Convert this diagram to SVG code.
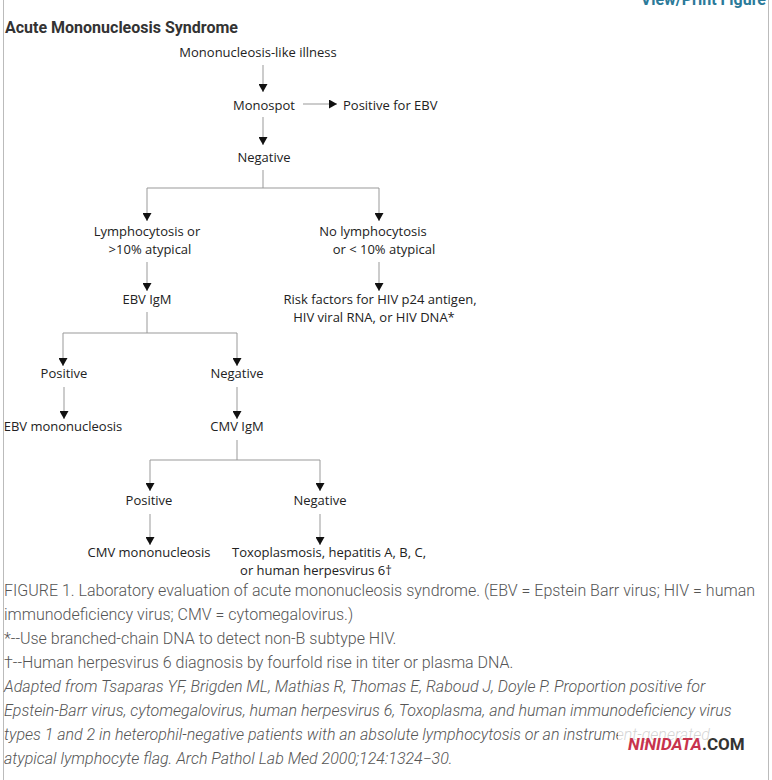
<svg xmlns="http://www.w3.org/2000/svg" width="772" height="780" viewBox="0 0 772 780">
<defs>
<marker id="ah" markerUnits="userSpaceOnUse" markerWidth="8" markerHeight="9" refX="8" refY="4.5" orient="auto">
<path d="M0,0 L8,4.5 L0,9 z" fill="#111"/>
</marker>
</defs>
<style>
.n{font-family:"Open Sans","Noto Sans",sans-serif;font-size:13px;fill:#222;text-anchor:middle}
.l{fill:none;stroke:#999;stroke-width:1}
.a{fill:none;stroke:#999;stroke-width:1;marker-end:url(#ah)}
.c{font-family:Roboto,"Liberation Sans",sans-serif;font-size:16px;font-weight:300;fill:#555}
.ci{font-style:italic}
</style>
<rect width="772" height="780" fill="#fff"/>
<line x1="3.5" y1="0" x2="3.5" y2="780" stroke="#bbb"/>
<line x1="768.5" y1="0" x2="768.5" y2="780" stroke="#bbb"/>
<text x="766" y="5" text-anchor="end" font-family="Roboto,'Liberation Sans',sans-serif" font-size="16" font-weight="bold" fill="#2b7a99">View/Print Figure</text>
<text x="5" y="33" font-family="Roboto,'Liberation Sans',sans-serif" font-size="16" font-weight="bold" fill="#333">Acute Mononucleosis Syndrome</text>

<g id="connectors">
<path class="a" d="M263,65 V92"/>
<path class="a" d="M303,104 H337"/>
<path class="a" d="M263,117 V145"/>
<path class="l" d="M263,170 V188 M147,188 H379"/>
<path class="a" d="M147,188 V221"/>
<path class="a" d="M379,188 V221"/>
<path class="a" d="M147,262 V291"/>
<path class="a" d="M379,262 V291"/>
<path class="l" d="M147,312 V333 M63,333 H237"/>
<path class="a" d="M63,333 V366"/>
<path class="a" d="M237,333 V366"/>
<path class="a" d="M64,387 V419"/>
<path class="a" d="M237,387 V419"/>
<path class="l" d="M237,440 V460 M150,460 H320"/>
<path class="a" d="M150,460 V491"/>
<path class="a" d="M320,460 V491"/>
<path class="a" d="M150,514 V545"/>
<path class="a" d="M320,514 V545"/>
</g>

<g id="n-illness"><text class="n" x="258" y="57">Mononucleosis-like illness</text></g>
<g id="n-monospot"><text class="n" x="264" y="110">Monospot</text></g>
<g id="n-posebv"><text class="n" x="343" y="110" style="text-anchor:start">Positive for EBV</text></g>
<g id="n-neg1"><text class="n" x="264" y="162">Negative</text></g>
<g id="n-lymph"><text class="n" x="147" y="236">Lymphocytosis or</text><text class="n" x="150" y="254">&gt;10% atypical</text></g>
<g id="n-nolymph"><text class="n" x="373" y="236">No lymphocytosis</text><text class="n" x="384" y="254">or &lt; 10% atypical</text></g>
<g id="n-ebvigm"><text class="n" x="147" y="304">EBV IgM</text></g>
<g id="n-risk"><text class="n" x="380" y="304">Risk factors for HIV p24 antigen,</text><text class="n" x="374" y="322">HIV viral RNA, or HIV DNA*</text></g>
<g id="n-pos2"><text class="n" x="64" y="378">Positive</text></g>
<g id="n-neg2"><text class="n" x="237" y="378">Negative</text></g>
<g id="n-ebvmono"><text class="n" x="63" y="431">EBV mononucleosis</text></g>
<g id="n-cmvigm"><text class="n" x="237" y="431">CMV IgM</text></g>
<g id="n-pos3"><text class="n" x="149" y="505">Positive</text></g>
<g id="n-neg3"><text class="n" x="320" y="505">Negative</text></g>
<g id="n-cmvmono"><text class="n" x="149" y="557">CMV mononucleosis</text></g>
<g id="n-toxo"><text class="n" x="329" y="557">Toxoplasmosis, hepatitis A, B, C,</text><text class="n" x="316" y="575">or human herpesvirus 6†</text></g>

<g id="caption">
<text class="c" x="4" y="596">FIGURE 1. Laboratory evaluation of acute mononucleosis syndrome. (EBV = Epstein Barr virus; HIV = human</text>
<text class="c" x="4" y="620">immunodeficiency virus; CMV = cytomegalovirus.)</text>
<text class="c" x="4" y="644">*--Use branched-chain DNA to detect non-B subtype HIV.</text>
<text class="c" x="4" y="668">†--Human herpesvirus 6 diagnosis by fourfold rise in titer or plasma DNA.</text>
<text class="c ci" x="4" y="692">Adapted from Tsaparas YF, Brigden ML, Mathias R, Thomas E, Raboud J, Doyle P. Proportion positive for</text>
<text class="c ci" x="4" y="716">Epstein-Barr virus, cytomegalovirus, human herpesvirus 6, Toxoplasma, and human immunodeficiency virus</text>
<text class="c ci" x="4" y="740">types 1 and 2 in heterophil-negative patients with an absolute lymphocytosis or an instrument-generated</text>
<text class="c ci" x="4" y="764">atypical lymphocyte flag. Arch Pathol Lab Med 2000;124:1324−30.</text>
</g>
<g id="watermark">
<rect x="618" y="727" width="138" height="16" fill="#fff" opacity="0.75"/>
<text x="628" y="750" font-family="Roboto,'Liberation Sans',sans-serif" font-size="17" font-weight="bold"><tspan fill="#c8334d" font-style="italic">NINIDATA</tspan><tspan fill="#333">.COM</tspan></text>
</g>
</svg>
